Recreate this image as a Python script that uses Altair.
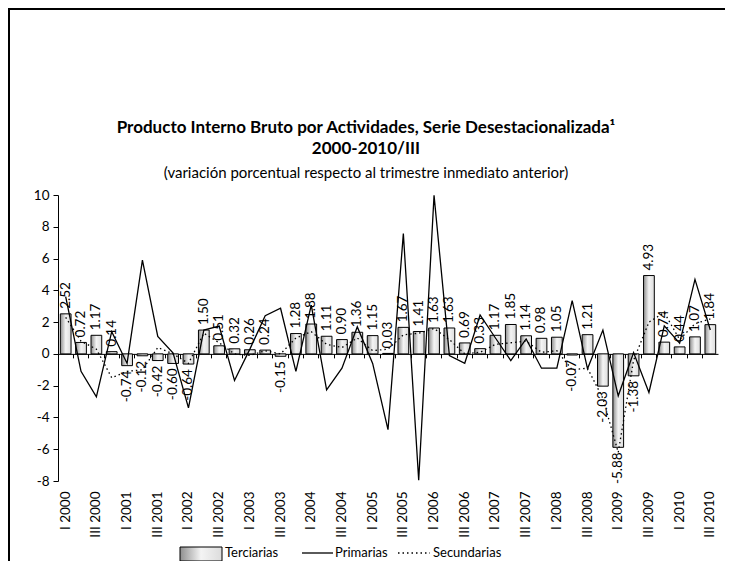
import altair as alt
import pandas as pd

years = list(range(2000, 2011))
romans = ["I", "II", "III", "IV"]
quarters = [f"{r} {y}" for y in years for r in romans][:43]

terciarias = [2.52, 0.72, 1.17, 0.14, -0.74, -0.12, -0.42, -0.60, -0.64, 1.50,
              0.51, 0.32, 0.26, 0.24, -0.15, 1.28, 1.88, 1.11, 0.90, 1.36,
              1.15, 0.03, 1.67, 1.41, 1.63, 1.63, 0.69, 0.33, 1.17, 1.85,
              1.14, 0.98, 1.05, -0.07, 1.21, -2.03, -5.88, -1.38, 4.93, 0.74,
              0.44, 1.07, 1.84]
primarias = [3.6, -1.1, -2.7, 1.4, -0.6, 5.9, 1.1, 0.05, -3.4, 1.5,
             1.75, -1.67, 0.3, 2.4, 2.87, -1.1, 3.07, -2.26, -0.9, 1.7,
             -0.6, -4.77, 7.57, -7.95, 9.98, -0.1, -0.59, 2.45, 1.0, -0.42,
             0.94, -0.9, -0.9, 3.35, -0.94, 1.5, -2.64, 0.08, -2.43, 1.76,
             0.67, 4.69, 1.5]
secundarias = [2.3, 0.8, 0.3, -1.5, -1.1, -1.0, 0.4, 0.0, -0.6, 1.3,
               0.7, 0.0, -0.1, 0.2, 0.0, 1.0, 1.4, 0.6, 0.4, 1.0,
               0.2, 0.3, 1.2, 1.3, 1.6, 0.9, 0.0, 0.1, 0.6, 0.7,
               0.8, 0.1, 0.2, -1.0, -0.9, -2.8, -6.2, -0.4, 2.0, 2.6,
               0.9, 1.9, 2.2]
legend_labels = ["Terciarias", "Primarias", "Secundarias"]
title_lines = ["Producto Interno Bruto por Actividades, Serie Desestacionalizada¹",
               "2000-2010/III"]
subtitle_text = "(variación porcentual respecto al trimestre inmediato anterior)"

df = pd.DataFrame({"q": quarters, "t": terciarias, "p": primarias, "s": secundarias})
df["lab"] = [f"{v:.2f}" for v in terciarias]
one = pd.DataFrame({"a": [0]})

W, H = 660, 286
YMIN, YMAX = -8, 10
zero_off = H * (0 - YMIN) / (YMAX - YMIN)
FONT = "Lato"
LBL = 13.5

grad = {"x1": 0, "x2": 1, "y1": 0, "y2": 0, "gradient": "linear",
        "stops": [{"offset": 0, "color": "#8f8f8f"},
                  {"offset": 0.5, "color": "#f4f4f4"},
                  {"offset": 1, "color": "#dcdcdc"}]}

xaxis = alt.Axis(title=None, orient="bottom", offset=-zero_off,
                 labelPadding=zero_off + 6, labelAngle=-90,
                 labelAlign="right", labelBaseline="middle",
                 labelFont=FONT, labelFontSize=LBL, labelColor="black",
                 labelOverlap=False, bandPosition=0,
                 tickColor="black", tickSize=4, domainColor="black",
                 grid=False,
                 labelExpr="(split(datum.label,' ')[0]=='I' || split(datum.label,' ')[0]=='III') ? datum.label : ''")
yaxis = alt.Axis(title=None, values=list(range(YMIN, YMAX + 1, 2)), grid=False,
                 domainColor="black", tickColor="black", tickSize=5,
                 labelFont=FONT, labelFontSize=LBL, labelColor="black", labelPadding=4,
                 labelOverlap=False, labelExpr="toString(datum.value)")


def xenc():
    return alt.X("q:N", sort=quarters,
                 scale=alt.Scale(paddingInner=0, paddingOuter=0), axis=xaxis)


def yenc(field):
    return alt.Y(field, scale=alt.Scale(domain=[YMIN, YMAX], nice=False, zero=False),
                 axis=yaxis)


base = alt.Chart(df)
bars = base.mark_bar(fill=grad, stroke="black", strokeWidth=1,
                     width=alt.RelativeBandSize(0.7)).encode(x=xenc(), y=yenc("t:Q"))
sec = base.mark_line(color="black", strokeWidth=1.3, strokeDash=[1.5, 3]).encode(
    x=xenc(), y=yenc("s:Q"))
pri = base.mark_line(color="black", strokeWidth=1.3).encode(x=xenc(), y=yenc("p:Q"))
txt_pos = base.transform_filter("datum.t >= 0").mark_text(
    angle=270, align="left", baseline="middle", dx=5, font=FONT, fontSize=LBL,
    color="black").encode(x=xenc(), y=yenc("t:Q"), text="lab:N")
txt_neg = base.transform_filter("datum.t < 0").mark_text(
    angle=270, align="right", baseline="middle", dx=-5, font=FONT, fontSize=LBL,
    color="black").encode(x=xenc(), y=yenc("t:Q"), text="lab:N")

lg = alt.Chart(one)
ttl1 = lg.mark_text(align="center", baseline="middle", font=FONT, fontSize=17,
                    fontWeight="bold", color="black").encode(
    x=alt.value(308), y=alt.value(-67), text=alt.value(title_lines[0]))
ttl2 = lg.mark_text(align="center", baseline="middle", font=FONT, fontSize=17,
                    fontWeight="bold", color="black").encode(
    x=alt.value(308), y=alt.value(-46), text=alt.value(title_lines[1]))
sub = lg.mark_text(align="center", baseline="middle", font=FONT, fontSize=15,
                   color="black").encode(
    x=alt.value(308), y=alt.value(-22), text=alt.value(subtitle_text))

leg_sw = lg.mark_rect(fill=grad, stroke="black", strokeWidth=1).encode(
    x=alt.value(122), x2=alt.value(164), y=alt.value(352), y2=alt.value(366))
leg_t1 = lg.mark_text(align="left", baseline="middle", font=FONT, fontSize=13, color="black").encode(
    x=alt.value(167), y=alt.value(358), text=alt.value(legend_labels[0]))
leg_l2 = lg.mark_rule(color="black", strokeWidth=1.3).encode(
    x=alt.value(244), x2=alt.value(275), y=alt.value(358))
leg_t2 = lg.mark_text(align="left", baseline="middle", font=FONT, fontSize=13, color="black").encode(
    x=alt.value(277), y=alt.value(358), text=alt.value(legend_labels[1]))
leg_l3 = lg.mark_rule(color="black", strokeWidth=1.3, strokeDash=[1.5, 3]).encode(
    x=alt.value(340), x2=alt.value(372), y=alt.value(358))
leg_t3 = lg.mark_text(align="left", baseline="middle", font=FONT, fontSize=13, color="black").encode(
    x=alt.value(375), y=alt.value(358), text=alt.value(legend_labels[2]))

b_top = lg.mark_rule(color="black", strokeWidth=2).encode(
    x=alt.value(-50), x2=alt.value(667), y=alt.value(-186))
b_left = lg.mark_rule(color="black", strokeWidth=2).encode(
    x=alt.value(-49), y=alt.value(-187), y2=alt.value(370))

chart = alt.layer(
    bars, sec, pri, txt_pos, txt_neg, ttl1, ttl2, sub,
    leg_sw, leg_t1, leg_l2, leg_t2, leg_l3, leg_t3, b_top, b_left
).properties(
    width=W, height=H,
    padding={"left": 50, "top": 187, "right": 7, "bottom": 80},
    autosize=alt.AutoSizeParams(type="none"),
).configure_view(stroke=None)

chart.save("out.html", embed_options={"renderer": "svg", "actions": False})
